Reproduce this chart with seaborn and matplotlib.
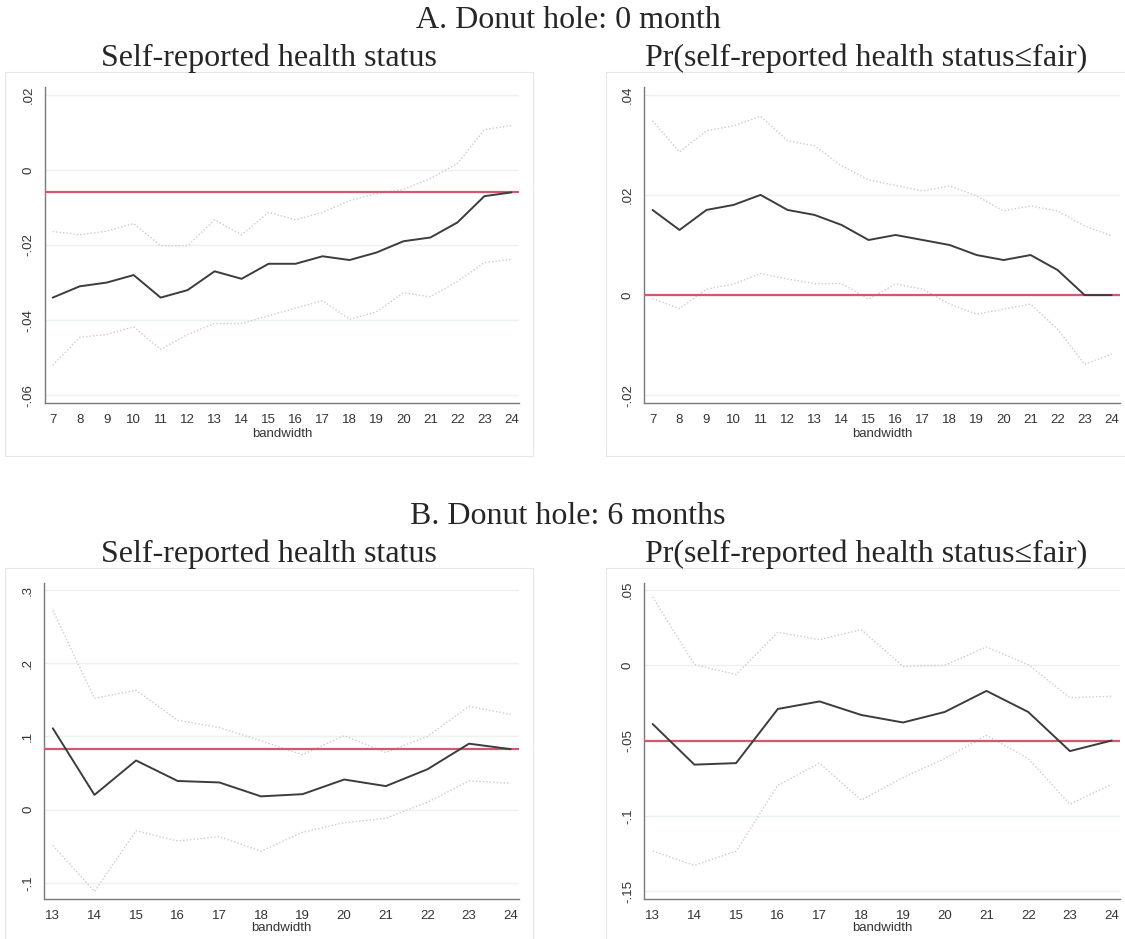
import matplotlib
matplotlib.use("Agg")
import matplotlib.pyplot as plt
import matplotlib.ticker as mticker
from matplotlib.patches import Rectangle
import pandas as pd
import seaborn as sns

# bandwidths
bw_a = [7, 8, 9, 10, 11, 12, 13, 14, 15, 16, 17, 18, 19, 20, 21, 22, 23, 24]
bw_b = [13, 14, 15, 16, 17, 18, 19, 20, 21, 22, 23, 24]

# A. donut hole 0 month - self-reported health status
a1_est = [-0.034, -0.031, -0.030, -0.028, -0.034, -0.032, -0.027, -0.029, -0.025,
          -0.025, -0.023, -0.024, -0.022, -0.019, -0.018, -0.014, -0.007, -0.006]
a1_hi = [-0.0164, -0.0173, -0.0163, -0.0143, -0.0202, -0.0202, -0.0133, -0.0173, -0.0113,
         -0.0133, -0.0113, -0.0082, -0.0063, -0.0052, -0.0023, 0.0017, 0.0107, 0.0118]
a1_lo = [-0.0520, -0.0446, -0.0438, -0.0418, -0.0478, -0.0438, -0.0409, -0.0409, -0.0388,
         -0.0368, -0.0348, -0.0398, -0.0378, -0.0327, -0.0338, -0.0297, -0.0247, -0.0238]

# A. donut hole 0 month - Pr(health <= fair)
a2_est = [0.017, 0.013, 0.017, 0.018, 0.020, 0.017, 0.016, 0.014, 0.011,
          0.012, 0.011, 0.010, 0.008, 0.007, 0.008, 0.005, 0.000, 0.000]
a2_hi = [0.0348, 0.0286, 0.0328, 0.0338, 0.0357, 0.0308, 0.0298, 0.0258, 0.0230,
         0.0219, 0.0208, 0.0218, 0.0198, 0.0168, 0.0178, 0.0168, 0.0138, 0.0118]
a2_lo = [-0.0007, -0.0027, 0.0012, 0.0022, 0.0043, 0.0032, 0.0023, 0.0023, -0.0008,
         0.0022, 0.0012, -0.0018, -0.0038, -0.0028, -0.0018, -0.0068, -0.0138, -0.0118]

# B. donut hole 6 months - self-reported health status
b1_est = [0.111, 0.020, 0.067, 0.039, 0.037, 0.018, 0.021, 0.041, 0.032, 0.055, 0.090, 0.0825]
b1_hi = [0.272, 0.152, 0.163, 0.122, 0.112, 0.094, 0.075, 0.101, 0.078, 0.100, 0.141, 0.130]
b1_lo = [-0.049, -0.112, -0.029, -0.043, -0.037, -0.057, -0.031, -0.018, -0.012, 0.010, 0.039, 0.036]

# B. donut hole 6 months - Pr(health <= fair)
b2_est = [-0.039, -0.066, -0.065, -0.029, -0.024, -0.033, -0.038, -0.031, -0.017, -0.031, -0.057, -0.050]
b2_hi = [0.0455, 0.0005, -0.0062, 0.0220, 0.0170, 0.0237, -0.0007, 0.0000, 0.0122, 0.0005, -0.0215, -0.0206]
b2_lo = [-0.1234, -0.1329, -0.1236, -0.0797, -0.0650, -0.0896, -0.0746, -0.0620, -0.0465, -0.0620, -0.0923, -0.0790]

yticks_a1 = [-0.06, -0.04, -0.02, 0, 0.02]
yticks_a2 = [-0.02, 0, 0.02, 0.04]
yticks_b1 = [-0.1, 0, 0.1, 0.2, 0.3]
yticks_b2 = [-0.15, -0.1, -0.05, 0, 0.05]

W, H = 1125, 939
SERIF = ["Liberation Serif", "DejaVu Serif"]
SANS = ["Liberation Sans", "DejaVu Sans"]

sns.set_style("white")
plt.rcParams["font.family"] = SANS


def stata_fmt(v, pos=None):
    s = f"{v:g}"
    if s.startswith("0."):
        s = s[1:]
    elif s.startswith("-0."):
        s = "-" + s[2:]
    return s


def rect(x0, x1, y0, y1):
    return [x0 / W, 1 - y1 / H, (x1 - x0) / W, (y1 - y0) / H]


def draw_panel(ax, bw, est, lo, hi, yticks, xlim, ylim):
    df = pd.DataFrame({"bandwidth": bw, "est": est, "lo": lo, "hi": hi})
    for col in ["lo", "hi"]:
        sns.lineplot(data=df, x="bandwidth", y=col, ax=ax, color="#cccccc",
                     linewidth=1.0, linestyle=(0, (1, 1.5)), zorder=2)
    ax.axhline(est[-1], color="#d6556f", linewidth=1.6, zorder=3)
    sns.lineplot(data=df, x="bandwidth", y="est", ax=ax, color="#3c3c3c",
                 linewidth=1.4, zorder=4)
    ax.set_xlim(*xlim)
    ax.set_ylim(*ylim)
    ax.set_xticks(bw)
    ax.set_yticks(yticks)
    ax.yaxis.set_major_formatter(mticker.FuncFormatter(stata_fmt))
    ax.grid(axis="y", color="#eaf2f3", linewidth=1.0)
    ax.set_axisbelow(True)
    for side in ["top", "right"]:
        ax.spines[side].set_visible(False)
    for side in ["left", "bottom"]:
        ax.spines[side].set_color("#7a7a7a")
        ax.spines[side].set_linewidth(1.0)
    ax.tick_params(axis="both", direction="out", length=4.5, width=0.8,
                   color="#7a7a7a", labelsize=9.5, labelcolor="#333333", pad=3)
    for lab in ax.get_yticklabels():
        lab.set_rotation(90)
        lab.set_va("center")
    ax.set_xlabel("bandwidth", fontsize=9.5, color="#333333", labelpad=2)
    ax.set_ylabel("")


fig = plt.figure(figsize=(W / 100, H / 100), dpi=100)

# graph-region boxes
for x0, x1, y0, y1 in [(5, 533, 72, 456), (606, 1130, 72, 456),
                       (5, 533, 568, 950), (606, 1130, 568, 950)]:
    fig.add_artist(Rectangle((x0 / W, 1 - y1 / H), (x1 - x0) / W, (y1 - y0) / H,
                             transform=fig.transFigure, fill=False,
                             edgecolor="#e6e6e6", linewidth=0.8))

ax1 = fig.add_axes(rect(44.8, 519.3, 86.7, 403.3))
draw_panel(ax1, bw_a, a1_est, a1_lo, a1_hi, yticks_a1, (6.707, 24.293), (-0.06213, 0.02213))
ax2 = fig.add_axes(rect(644.3, 1120, 86.7, 403.3))
draw_panel(ax2, bw_a, a2_est, a2_lo, a2_hi, yticks_a2, (6.696, 24.31), (-0.0216, 0.0416))
ax3 = fig.add_axes(rect(44.5, 519, 582.7, 899.3))
draw_panel(ax3, bw_b, b1_est, b1_lo, b1_hi, yticks_b1, (12.80, 24.2), (-0.1227, 0.31))
ax4 = fig.add_axes(rect(644.3, 1120, 582.7, 899.3))
draw_panel(ax4, bw_b, b2_est, b2_lo, b2_hi, yticks_b2, (12.80, 24.2), (-0.1555, 0.0549))
for ax in (ax3, ax4):
    ax.xaxis.labelpad = 0.5

# titles
fig.text(568 / W, 1 - 28 / H, "A. Donut hole: 0 month", ha="center", va="baseline",
         fontsize=23, family=SERIF)
fig.text(568 / W, 1 - 524 / H, "B. Donut hole: 6 months", ha="center", va="baseline",
         fontsize=23, family=SERIF)
for base in (66, 562):
    fig.text(269 / W, 1 - base / H, "Self-reported health status", ha="center",
             va="baseline", fontsize=23, family=SERIF)
    fig.text(866 / W, 1 - base / H, "Pr(self-reported health status\u2264fair)",
             ha="center", va="baseline", fontsize=23, family=SERIF)

fig.savefig("out.png", dpi=100)
